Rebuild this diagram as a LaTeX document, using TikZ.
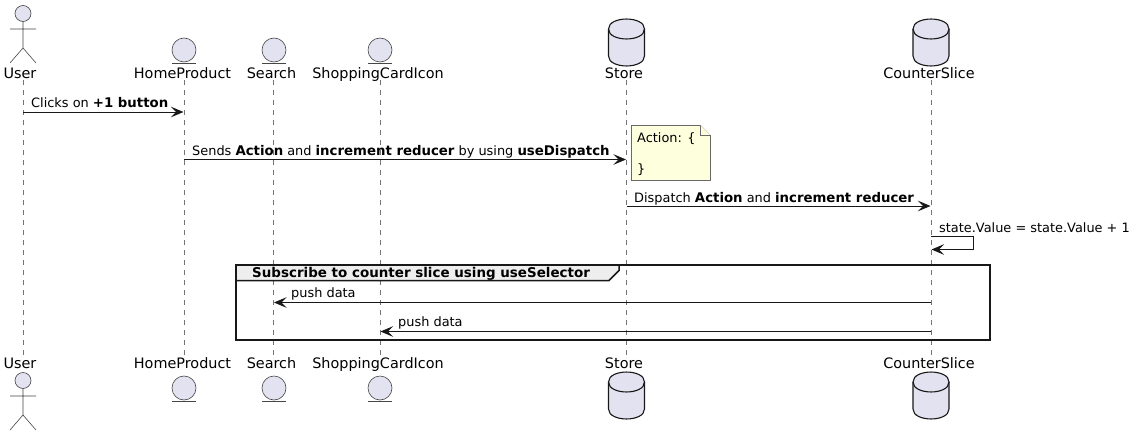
\documentclass[tikz,border=0pt]{standalone}
\usepackage{fontspec}
\setmainfont{DejaVu Sans}
\usetikzlibrary{arrows.meta}
\definecolor{part}{HTML}{E2E2F0}
\definecolor{ink}{HTML}{181818}
\definecolor{notefill}{HTML}{FEFFDD}
\definecolor{grp}{HTML}{EEEEEE}
\newcommand{\bd}[1]{{\fontsize{13.3}{15}\selectfont\bfseries #1}}
\tikzset{
  x=1pt,y=-1pt,
  lab/.style={font=\fontsize{14.4}{16}\selectfont,text=black,inner sep=0pt,anchor=base},
  msglab/.style={font=\fontsize{12.9}{15}\selectfont,text=black,inner sep=0pt,anchor=base west},
  life/.style={draw=ink!60,line width=0.8pt,dash pattern=on 5pt off 5pt},
  msg/.style={draw=ink,line width=1pt,-{Stealth[length=12.5pt,width=10.5pt,inset=5pt,fill=ink]}},
  fig/.style={draw=ink!80,line width=0.6pt},
  dbfig/.style={draw=ink,line width=1.1pt},
  grpline/.style={draw=ink,line width=2pt},
}
\newcommand{\actorfig}[2]{%
  \draw[fig,fill=part] (#1,#2+13.5) circle (8);
  \draw[fig] (#1,#2+21.5) -- (#1,#2+48) (#1-13,#2+29) -- (#1+13,#2+29)
     (#1-13,#2+63) -- (#1,#2+48) -- (#1+13,#2+63);
}
\newcommand{\entityfig}[2]{%
  \draw[fig,fill=part] (#1,#2) circle (12);
  \draw[fig] (#1-12,#2+13) -- (#1+12,#2+13);
}
\newcommand{\dbfigure}[2]{%
  \draw[dbfig,fill=part] (#1-18,#2+10) .. controls (#1-18,#2-3.3) and (#1+18,#2-3.3) .. (#1+18,#2+10)
    -- (#1+18,#2+37) .. controls (#1+18,#2+50.3) and (#1-18,#2+50.3) .. (#1-18,#2+37) -- cycle;
  \draw[dbfig] (#1-18,#2+10) .. controls (#1-18,#2+23.3) and (#1+18,#2+23.3) .. (#1+18,#2+10);
}
\begin{document}
\begin{tikzpicture}
\useasboundingbox (0,0) rectangle (1134,436);
\fill[white] (0,0) rectangle (1134,436);
% lifelines
\coordinate (uT) at (23,80);   \coordinate (uB) at (23,360);
\coordinate (hT) at (184,80);  \coordinate (hB) at (184,360);
\coordinate (sT) at (273.5,80);\coordinate (sB) at (273.5,360);
\coordinate (cT) at (380,80);  \coordinate (cB) at (380,360);
\coordinate (dT) at (626.5,80);\coordinate (dB) at (626.5,360);
\coordinate (rT) at (931,80);  \coordinate (rB) at (931,360);
\draw[life] (uT) -- (uB);
\draw[life] (hT) -- (hB);
\draw[life] (sT) -- (sB);
\draw[life] (cT) -- (cB);
\draw[life] (dT) -- (dB);
\draw[life] (rT) -- (rB);
% top heads
\actorfig{23}{0}
\entityfig{184}{50}
\entityfig{274}{50}
\entityfig{380}{50}
\dbfigure{626.5}{19}
\dbfigure{931}{19}
\node[lab] (u1) at (20,78) {User};
\node[lab] (h1) at (182.5,78) {HomeProduct};
\node[lab] (s1) at (271.5,78) {Search};
\node[lab] (c1) at (378,78) {ShoppingCardIcon};
\node[lab] (d1) at (624,78) {Store};
\node[lab] (r1) at (929,78) {CounterSlice};
% bottom heads
\node[lab] (u2) at (20,368) {User};
\node[lab] (h2) at (182.5,368) {HomeProduct};
\node[lab] (s2) at (271.5,368) {Search};
\node[lab] (c2) at (378,368) {ShoppingCardIcon};
\node[lab] (d2) at (624,368) {Store};
\node[lab] (r2) at (929,368) {CounterSlice};
\actorfig{23}{367}
\entityfig{184}{388}
\entityfig{274}{388}
\entityfig{380}{388}
\dbfigure{626.5}{372}
\dbfigure{931}{372}
% messages
\coordinate (m1a) at (23,112);    \coordinate (m1b) at (183.5,112);
\draw[msg] (m1a) -- (m1b);
\node[msglab] at (31,107) {Clicks on \bd{+1 button}};
\coordinate (m2a) at (184,159.5); \coordinate (m2b) at (626,159.5);
\draw[msg] (m2a) -- (m2b);
\node[msglab] at (192,155) {Sends \bd{Action} and \bd{increment reducer} by using \bd{useDispatch}};
% note
\draw[draw=ink!65,line width=0.6pt,fill=notefill] (631.5,125.5) -- (700.5,125.5) -- (710.5,135.5) -- (710.5,180.5) -- (631.5,180.5) -- cycle;
\draw[draw=ink!65,line width=0.6pt,fill=notefill] (700.5,125.5) -- (700.5,135.5) -- (710.5,135.5);
\node[msglab] (note1) at (637,142) {Action: \{};
\node[msglab] (note2) at (637,173) {\}};
\coordinate (m3a) at (626.5,206); \coordinate (m3b) at (930.5,206);
\draw[msg] (m3a) -- (m3b);
\node[msglab] at (634,202) {Dispatch \bd{Action} and \bd{increment reducer}};
\coordinate (m4a) at (931,236.5); \coordinate (m4b) at (931.5,249.5);
\draw[msg] (m4a) -- (973.5,236.5) -- (973.5,249.5) -- (m4b);
\node[msglab] at (939,232) {state.Value = state.Value + 1};
% group
\draw[grpline] (236,265) rectangle (990,339.5);
\draw[grpline,line width=1.5pt,fill=grp] (236,265) -- (619,265) -- (619,270.5) -- (609,280.5) -- (236,280.5) -- cycle;
\draw[grpline] (236,265) -- (619,265);
\draw[grpline] (236,265) -- (236,280.5);
\node[msglab,font=\fontsize{13.45}{15}\selectfont\bfseries] (gt) at (252,277) {Subscribe to counter slice using useSelector};
\coordinate (m5a) at (931,302.5); \coordinate (m5b) at (274,302.5);
\draw[msg] (m5a) -- (m5b);
\node[msglab] at (291,297) {push data};
\coordinate (m6a) at (931,331.5); \coordinate (m6b) at (380.5,331.5);
\draw[msg] (m6a) -- (m6b);
\node[msglab] at (398,326) {push data};
\end{tikzpicture}
\end{document}
